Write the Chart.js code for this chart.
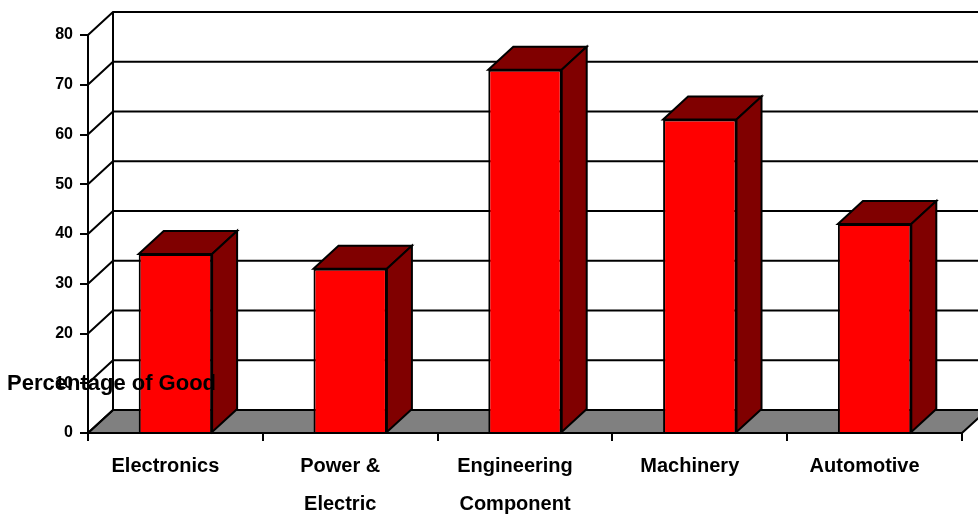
<!DOCTYPE html>
<html>
<head>
<meta charset="utf-8">
<script src="https://cdn.jsdelivr.net/npm/chart.js@4/dist/chart.umd.min.js"></script>
<style>
  body { margin: 0; background: #fff; }
</style>
</head>
<body>
<canvas id="goodsChart" width="978" height="518"></canvas>
<script>
const categories = ["Electronics", ["Power &", "Electric"], ["Engineering", "Component"], "Machinery", "Automotive"];
const percentages = [36, 33, 73, 63, 42];
const yMin = 0;
const yMax = 80;
const yStep = 10;
const axisTitle = "Percentage of Good";

// fake 3d depth
const dx = 25;
const dy = -23;

const box3d = {
  id: "box3d",
  beforeDatasetsDraw(chart) {
    const { ctx, chartArea: a } = chart;
    const y = chart.scales.y;
    const y0 = y.getPixelForValue(0);
    ctx.save();
    ctx.lineWidth = 2;
    ctx.strokeStyle = "#000";
    // floor
    ctx.fillStyle = "#808080";
    ctx.beginPath();
    ctx.moveTo(a.left, y0);
    ctx.lineTo(a.right, y0);
    ctx.lineTo(a.right + dx, y0 + dy);
    ctx.lineTo(a.left + dx, y0 + dy);
    ctx.closePath();
    ctx.fill();
    ctx.stroke();
    // side wall + back wall gridlines
    y.ticks.forEach(t => {
      const py = y.getPixelForValue(t.value);
      ctx.beginPath();
      ctx.moveTo(a.left, py);
      ctx.lineTo(a.left + dx, py + dy);
      ctx.lineTo(a.right + dx, py + dy);
      ctx.stroke();
    });
    ctx.beginPath();
    ctx.moveTo(a.left + dx, y0 + dy);
    ctx.lineTo(a.left + dx, y.getPixelForValue(yMax) + dy);
    ctx.stroke();
    ctx.restore();
  },
  afterDatasetsDraw(chart) {
    const { ctx } = chart;
    const meta = chart.getDatasetMeta(0);
    ctx.save();
    ctx.lineWidth = 2;
    ctx.lineJoin = "miter";
    ctx.strokeStyle = "#000";
    ctx.fillStyle = "#800000";
    meta.data.forEach(bar => {
      const { x, y, base, width } = bar.getProps(["x", "y", "base", "width"], true);
      const l = x - width / 2, r = x + width / 2;
      // top
      ctx.beginPath();
      ctx.moveTo(l, y);
      ctx.lineTo(l + dx, y + dy);
      ctx.lineTo(r + dx, y + dy);
      ctx.lineTo(r, y);
      ctx.closePath();
      ctx.fill();
      ctx.stroke();
      // side
      ctx.beginPath();
      ctx.moveTo(r, y);
      ctx.lineTo(r + dx, y + dy);
      ctx.lineTo(r + dx, base + dy);
      ctx.lineTo(r, base);
      ctx.closePath();
      ctx.fill();
      ctx.stroke();
    });
    ctx.restore();
  },
  afterDraw(chart) {
    const { ctx } = chart;
    const y = chart.scales.y;
    ctx.save();
    ctx.font = "bold 22px 'Liberation Sans', Arial, sans-serif";
    ctx.fillStyle = "#000";
    ctx.textBaseline = "middle";
    ctx.fillText(axisTitle, 7, y.getPixelForValue(10) + 1);
    ctx.restore();
  }
};

new Chart(document.getElementById("goodsChart"), {
  type: "bar",
  data: {
    labels: categories,
    datasets: [{
      data: percentages,
      backgroundColor: "#FF0000",
      borderColor: "#000",
      borderWidth: 2,
      barPercentage: 0.42,
      categoryPercentage: 1
    }]
  },
  options: {
    responsive: false,
    animation: false,
    layout: { padding: { top: 35, right: 16, left: 0, bottom: 0 } },
    plugins: { legend: { display: false }, tooltip: { enabled: false } },
    scales: {
      x: {
        afterFit: s => { s.height = 85; },
        grid: { offset: true, drawOnChartArea: false, tickLength: 8, color: "#000", lineWidth: 2 },
        border: { color: "#000", width: 2 },
        ticks: {
          color: "#000",
          padding: 6,
          labelOffset: -10,
          font: { family: "'Liberation Sans', Arial, sans-serif", size: 20, weight: "bold", lineHeight: 1.9 }
        }
      },
      y: {
        min: yMin,
        max: yMax,
        afterFit: s => { s.width = 88; },
        grid: { drawOnChartArea: false, tickLength: 8, color: "#000", lineWidth: 2 },
        border: { color: "#000", width: 2 },
        ticks: {
          stepSize: yStep,
          color: "#000",
          padding: 7,
          font: { family: "'Liberation Sans', Arial, sans-serif", size: 16, weight: "bold" }
        }
      }
    }
  },
  plugins: [box3d]
});
</script>
</body>
</html>
